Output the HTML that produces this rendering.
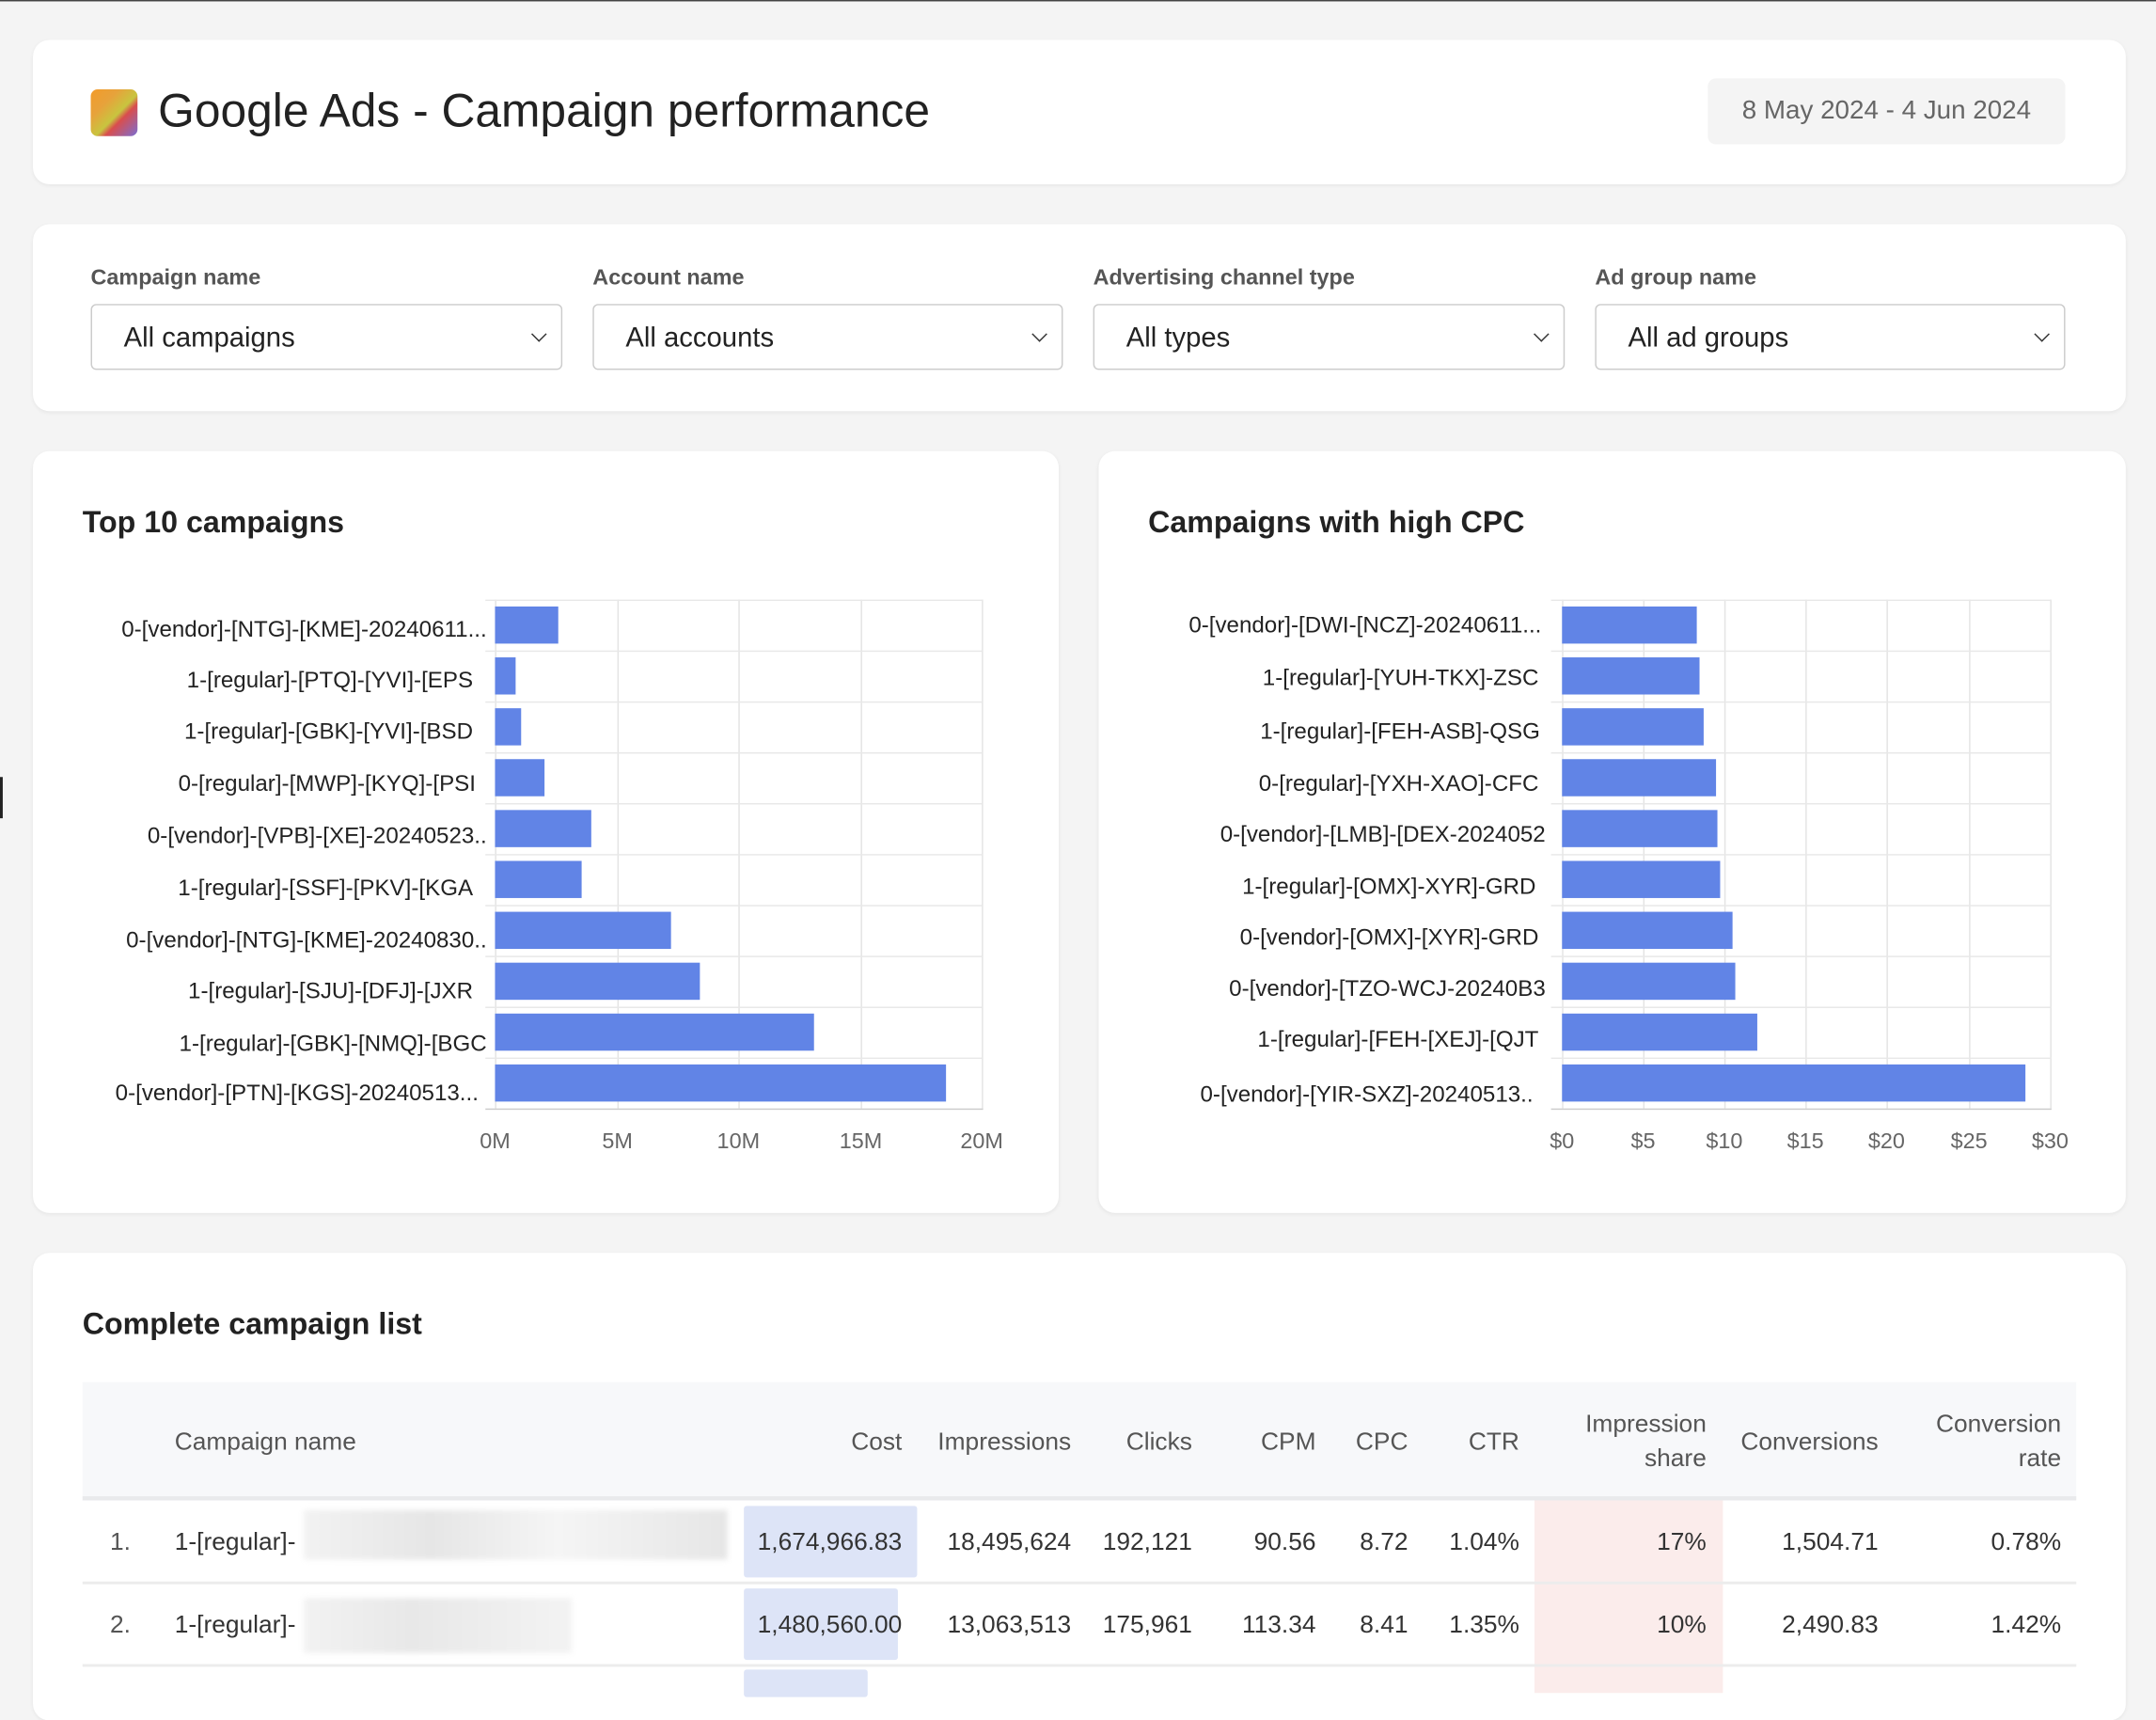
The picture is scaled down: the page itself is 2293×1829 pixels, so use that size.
<!DOCTYPE html>
<html><head><meta charset="utf-8"><style>
html,body{margin:0;padding:0;background:#f4f4f4;overflow:hidden}
#s{position:absolute;left:0;top:0;width:1568px;height:1224px;transform:scale(1.4624);transform-origin:0 0;font-family:"Liberation Sans",sans-serif;color:#222;background:#f4f4f4}
.a{position:absolute}
.card{position:absolute;background:#fff;border-radius:12px;box-shadow:0 1px 3px rgba(0,0,0,.06)}
.lab{position:absolute;font-size:16px;color:#555;font-weight:bold;top:194px}
.sel{position:absolute;top:221px;height:48px;border:1px solid #ccc;border-radius:4px;background:#fff;font-size:20px;line-height:48px;box-sizing:border-box;padding-left:23px}
.sel:after{content:"";position:absolute;right:12px;top:17px;width:7px;height:7px;border-right:1.6px solid #333;border-bottom:1.6px solid #333;transform:rotate(45deg)}
.yl{position:absolute;font-size:16.5px;text-align:right;white-space:nowrap;line-height:20px}
.bar{position:absolute;height:27px;background:#6184e6}
.gv{position:absolute;width:1px;background:#e4e4e4}
.gh{position:absolute;height:1px;background:#e8e8e8}
.tk{position:absolute;font-size:16px;color:#666;top:822px;width:60px;text-align:center}
.th{position:absolute;font-size:18px;color:#555;text-align:right;line-height:25px}
.td{position:absolute;font-size:18px;color:#333;text-align:right}
</style></head><body><div id="s">
<div class="a" style="left:0;top:0;width:1568px;height:1px;background:#444"></div>
<div class="a" style="left:0;top:565px;width:2px;height:30px;background:#222"></div>

<div class="card" style="left:24px;top:29px;width:1522px;height:105px"></div>
<div class="a" style="left:66px;top:65px;width:34px;height:34px;border-radius:5px;background:linear-gradient(135deg,#f29b2a 0%,#e7a23b 30%,#c8c53f 55%,#d94d4d 65%,#7a6fd4 100%)"></div>
<div class="a" style="left:115px;top:62px;font-size:34px;color:#222">Google Ads - Campaign performance</div>
<div class="a" style="left:1242px;top:57px;width:260px;height:48px;background:#f4f4f4;border-radius:6px;font-size:19px;color:#666;line-height:48px;text-align:center">8 May 2024 - 4 Jun 2024</div>

<div class="card" style="left:24px;top:163px;width:1522px;height:136px"></div>
<div class="lab" style="left:66px">Campaign name</div>
<div class="lab" style="left:431px">Account name</div>
<div class="lab" style="left:795px">Advertising channel type</div>
<div class="lab" style="left:1160px">Ad group name</div>
<div class="sel" style="left:66px;width:343px">All campaigns</div>
<div class="sel" style="left:431px;width:342px">All accounts</div>
<div class="sel" style="left:795px;width:343px">All types</div>
<div class="sel" style="left:1160px;width:342px">All ad groups</div>

<div class="card" style="left:24px;top:328px;width:746px;height:554px"></div>
<div class="card" style="left:799px;top:328px;width:747px;height:554px"></div>
<div class="a" style="left:60px;top:367px;font-size:22px;font-weight:bold;color:#222">Top 10 campaigns</div>
<div class="a" style="left:835px;top:367px;font-size:22px;font-weight:bold;color:#222">Campaigns with high CPC</div>

<!-- left chart -->
<div class="gv" style="left:360px;top:436px;height:370px"></div>
<div class="gv" style="left:449px;top:436px;height:370px"></div>
<div class="gv" style="left:537px;top:436px;height:370px"></div>
<div class="gv" style="left:626px;top:436px;height:370px"></div>
<div class="gv" style="left:714px;top:436px;height:370px"></div>
<div class="gh" style="left:353px;top:436px;width:362px"></div>
<div class="gh" style="left:353px;top:473px;width:362px"></div>
<div class="gh" style="left:353px;top:510px;width:362px"></div>
<div class="gh" style="left:353px;top:547px;width:362px"></div>
<div class="gh" style="left:353px;top:584px;width:362px"></div>
<div class="gh" style="left:353px;top:621px;width:362px"></div>
<div class="gh" style="left:353px;top:658px;width:362px"></div>
<div class="gh" style="left:353px;top:695px;width:362px"></div>
<div class="gh" style="left:353px;top:732px;width:362px"></div>
<div class="gh" style="left:353px;top:769px;width:362px"></div>
<div class="gh" style="left:353px;top:806px;width:362px;background:#ccc"></div>
<div class="bar" style="left:360px;top:441px;width:46px"></div>
<div class="bar" style="left:360px;top:478px;width:15px"></div>
<div class="bar" style="left:360px;top:515px;width:19px"></div>
<div class="bar" style="left:360px;top:552px;width:36px"></div>
<div class="bar" style="left:360px;top:589px;width:70px"></div>
<div class="bar" style="left:360px;top:626px;width:63px"></div>
<div class="bar" style="left:360px;top:663px;width:128px"></div>
<div class="bar" style="left:360px;top:700px;width:149px"></div>
<div class="bar" style="left:360px;top:737px;width:232px"></div>
<div class="bar" style="left:360px;top:774px;width:328px"></div>
<div class="yl" style="right:1214px;top:448px">0-[vendor]-[NTG]-[KME]-20240611...</div>
<div class="yl" style="right:1224px;top:485px">1-[regular]-[PTQ]-[YVI]-[EPS</div>
<div class="yl" style="right:1224px;top:522px">1-[regular]-[GBK]-[YVI]-[BSD</div>
<div class="yl" style="right:1222px;top:560px">0-[regular]-[MWP]-[KYQ]-[PSI</div>
<div class="yl" style="right:1214px;top:598px">0-[vendor]-[VPB]-[XE]-20240523..</div>
<div class="yl" style="right:1224px;top:636px">1-[regular]-[SSF]-[PKV]-[KGA</div>
<div class="yl" style="right:1214px;top:674px">0-[vendor]-[NTG]-[KME]-20240830..</div>
<div class="yl" style="right:1224px;top:711px">1-[regular]-[SJU]-[DFJ]-[JXR</div>
<div class="yl" style="right:1214px;top:749px">1-[regular]-[GBK]-[NMQ]-[BGC</div>
<div class="yl" style="right:1220px;top:785px">0-[vendor]-[PTN]-[KGS]-20240513...</div>
<div class="tk" style="left:330px">0M</div>
<div class="tk" style="left:419px">5M</div>
<div class="tk" style="left:507px">10M</div>
<div class="tk" style="left:596px">15M</div>
<div class="tk" style="left:684px">20M</div>

<!-- right chart -->
<div class="gv" style="left:1136px;top:436px;height:370px"></div>
<div class="gv" style="left:1195px;top:436px;height:370px"></div>
<div class="gv" style="left:1254px;top:436px;height:370px"></div>
<div class="gv" style="left:1313px;top:436px;height:370px"></div>
<div class="gv" style="left:1372px;top:436px;height:370px"></div>
<div class="gv" style="left:1432px;top:436px;height:370px"></div>
<div class="gv" style="left:1491px;top:436px;height:370px"></div>
<div class="gh" style="left:1128px;top:436px;width:364px"></div>
<div class="gh" style="left:1128px;top:473px;width:364px"></div>
<div class="gh" style="left:1128px;top:510px;width:364px"></div>
<div class="gh" style="left:1128px;top:547px;width:364px"></div>
<div class="gh" style="left:1128px;top:584px;width:364px"></div>
<div class="gh" style="left:1128px;top:621px;width:364px"></div>
<div class="gh" style="left:1128px;top:658px;width:364px"></div>
<div class="gh" style="left:1128px;top:695px;width:364px"></div>
<div class="gh" style="left:1128px;top:732px;width:364px"></div>
<div class="gh" style="left:1128px;top:769px;width:364px"></div>
<div class="gh" style="left:1128px;top:806px;width:364px;background:#ccc"></div>
<div class="bar" style="left:1136px;top:441px;width:98px"></div>
<div class="bar" style="left:1136px;top:478px;width:100px"></div>
<div class="bar" style="left:1136px;top:515px;width:103px"></div>
<div class="bar" style="left:1136px;top:552px;width:112px"></div>
<div class="bar" style="left:1136px;top:589px;width:113px"></div>
<div class="bar" style="left:1136px;top:626px;width:115px"></div>
<div class="bar" style="left:1136px;top:663px;width:124px"></div>
<div class="bar" style="left:1136px;top:700px;width:126px"></div>
<div class="bar" style="left:1136px;top:737px;width:142px"></div>
<div class="bar" style="left:1136px;top:774px;width:337px"></div>
<div class="yl" style="right:447px;top:445px">0-[vendor]-[DWI-[NCZ]-20240611...</div>
<div class="yl" style="right:449px;top:483px">1-[regular]-[YUH-TKX]-ZSC</div>
<div class="yl" style="right:448px;top:522px">1-[regular]-[FEH-ASB]-QSG</div>
<div class="yl" style="right:449px;top:560px">0-[regular]-[YXH-XAO]-CFC</div>
<div class="yl" style="right:444px;top:597px">0-[vendor]-[LMB]-[DEX-2024052</div>
<div class="yl" style="right:451px;top:635px">1-[regular]-[OMX]-XYR]-GRD</div>
<div class="yl" style="right:449px;top:672px">0-[vendor]-[OMX]-[XYR]-GRD</div>
<div class="yl" style="right:444px;top:709px">0-[vendor]-[TZO-WCJ-20240B3</div>
<div class="yl" style="right:449px;top:746px">1-[regular]-[FEH-[XEJ]-[QJT</div>
<div class="yl" style="right:453px;top:786px">0-[vendor]-[YIR-SXZ]-20240513..</div>
<div class="tk" style="left:1106px">$0</div>
<div class="tk" style="left:1165px">$5</div>
<div class="tk" style="left:1224px">$10</div>
<div class="tk" style="left:1283px">$15</div>
<div class="tk" style="left:1342px">$20</div>
<div class="tk" style="left:1402px">$25</div>
<div class="tk" style="left:1461px">$30</div>

<!-- table -->
<div class="card" style="left:24px;top:911px;width:1522px;height:340px"></div>
<div class="a" style="left:60px;top:950px;font-size:22px;font-weight:bold;color:#222">Complete campaign list</div>
<div class="a" style="left:60px;top:1005px;width:1450px;height:84px;background:#f7f8fa"></div>
<div class="a" style="left:60px;top:1088px;width:1450px;height:3px;background:#e9eaec"></div>
<div class="a" style="left:1116px;top:1091px;width:137px;height:140px;background:#fbeceb"></div>
<div class="a" style="left:60px;top:1150px;width:1450px;height:2px;background:#ececec"></div>
<div class="a" style="left:60px;top:1210px;width:1450px;height:2px;background:#ececec"></div>
<div class="a" style="left:541px;top:1095px;width:126px;height:52px;background:#dde4f7;border-radius:2px"></div>
<div class="a" style="left:541px;top:1155px;width:112px;height:52px;background:#dde4f7;border-radius:2px"></div>
<div class="a" style="left:541px;top:1214px;width:90px;height:20px;background:#dde4f7;border-radius:2px"></div>
<div class="a" style="left:221px;top:1098px;width:308px;height:36px;background:linear-gradient(90deg,#f2f2f2,#e6e6e6 30%,#f5f5f5 60%,#e6e6e6);filter:blur(2px)"></div>
<div class="a" style="left:221px;top:1162px;width:195px;height:40px;background:linear-gradient(90deg,#f2f2f2,#e8e8e8 40%,#f3f3f3);filter:blur(2px)"></div>

<div class="th" style="left:127px;top:1036px;text-align:left">Campaign name</div>
<div class="th" style="right:912px;top:1036px">Cost</div>
<div class="th" style="right:789px;top:1036px">Impressions</div>
<div class="th" style="right:701px;top:1036px">Clicks</div>
<div class="th" style="right:611px;top:1036px">CPM</div>
<div class="th" style="right:544px;top:1036px">CPC</div>
<div class="th" style="right:463px;top:1036px">CTR</div>
<div class="th" style="right:327px;top:1023px">Impression<br>share</div>
<div class="th" style="right:202px;top:1036px">Conversions</div>
<div class="th" style="right:69px;top:1023px">Conversion<br>rate</div>

<div class="td" style="left:80px;top:1111px;color:#555">1.</div>
<div class="td" style="left:127px;top:1111px;text-align:left">1-[regular]-</div>
<div class="td" style="right:912px;top:1111px">1,674,966.83</div>
<div class="td" style="right:789px;top:1111px">18,495,624</div>
<div class="td" style="right:701px;top:1111px">192,121</div>
<div class="td" style="right:611px;top:1111px">90.56</div>
<div class="td" style="right:544px;top:1111px">8.72</div>
<div class="td" style="right:463px;top:1111px">1.04%</div>
<div class="td" style="right:327px;top:1111px">17%</div>
<div class="td" style="right:202px;top:1111px">1,504.71</div>
<div class="td" style="right:69px;top:1111px">0.78%</div>

<div class="td" style="left:80px;top:1171px;color:#555">2.</div>
<div class="td" style="left:127px;top:1171px;text-align:left">1-[regular]-</div>
<div class="td" style="right:912px;top:1171px">1,480,560.00</div>
<div class="td" style="right:789px;top:1171px">13,063,513</div>
<div class="td" style="right:701px;top:1171px">175,961</div>
<div class="td" style="right:611px;top:1171px">113.34</div>
<div class="td" style="right:544px;top:1171px">8.41</div>
<div class="td" style="right:463px;top:1171px">1.35%</div>
<div class="td" style="right:327px;top:1171px">10%</div>
<div class="td" style="right:202px;top:1171px">2,490.83</div>
<div class="td" style="right:69px;top:1171px">1.42%</div>
</div></body></html>
